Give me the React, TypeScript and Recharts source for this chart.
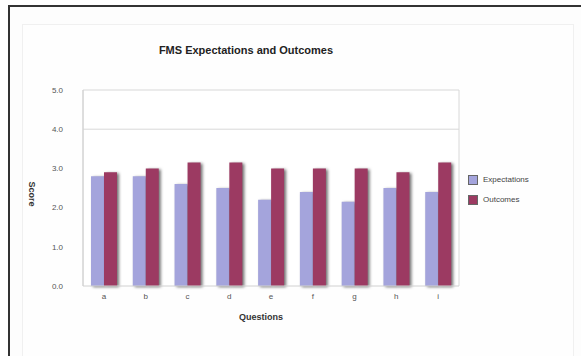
import React from 'react';
import {
  BarChart,
  Bar,
  XAxis,
  YAxis,
  CartesianGrid,
} from 'recharts';

const questions = ['a', 'b', 'c', 'd', 'e', 'f', 'g', 'h', 'i'];
const expectations = [2.8, 2.8, 2.6, 2.5, 2.2, 2.4, 2.15, 2.5, 2.4];
const outcomes = [2.9, 3.0, 3.15, 3.15, 3.0, 3.0, 3.0, 2.9, 3.15];
const scoreTicks = [0, 1, 2, 3, 4, 5];
const gridValues = [4, 5];

const EXP_COLOR = '#a4a4dc';
const OUT_COLOR = '#9c3a62';
const FONT = 'Liberation Sans, Arial, sans-serif';

const data = questions.map((q, i) => ({
  name: q,
  Expectations: expectations[i],
  Outcomes: outcomes[i],
}));

const series: Array<[string, string]> = [
  ['Expectations', EXP_COLOR],
  ['Outcomes', OUT_COLOR],
];

// legend sits outside the chart so it does not eat into the plot area
const LegendBox = () => (
  <div
    style={{
      position: 'absolute',
      left: 468,
      top: 170,
      fontFamily: FONT,
      fontSize: 8,
      color: '#444',
      lineHeight: '20px',
    }}
  >
    {series.map(([label, color]) => (
      <div key={label} style={{ display: 'flex', alignItems: 'center' }}>
        <span
          style={{
            display: 'inline-block',
            width: 8,
            height: 8,
            background: color,
            border: '1px solid #666',
            marginRight: 5,
          }}
        />
        {label}
      </div>
    ))}
  </div>
);

export default function App() {
  return (
    <div
      style={{
        position: 'absolute',
        left: 0,
        top: 0,
        width: 581,
        height: 356,
        background: '#fff',
        overflow: 'hidden',
      }}
    >
      <style>{`.recharts-bar-rectangle path { filter: drop-shadow(2px 1px 1.5px rgba(0,0,0,0.55)); }`}</style>
      {/* page frame */}
      <div
        style={{
          position: 'absolute',
          left: 8,
          top: 5,
          width: 600,
          height: 400,
          borderTop: '2px solid #333',
          borderLeft: '2px solid #333',
          background: '#fdfdfd',
        }}
      />
      {/* chart area */}
      <div
        style={{
          position: 'absolute',
          left: 22,
          top: 24,
          width: 550,
          height: 340,
          border: '1px solid #f0f0f0',
          background: '#fefefe',
        }}
      />
      <div
        style={{
          position: 'absolute',
          left: 0,
          width: 492,
          top: 44,
          textAlign: 'center',
          fontFamily: FONT,
          fontSize: 11,
          fontWeight: 'bold',
          color: '#222',
        }}
      >
        FMS Expectations and Outcomes
      </div>
      <div style={{ position: 'absolute', left: 0, top: 0 }}>
        <BarChart
          width={581}
          height={356}
          data={data}
          margin={{ top: 90, right: 122, bottom: 34, left: 0 }}
          barCategoryGap='19%'
          barGap={0}
        >
          <CartesianGrid
            stroke='#d8d8d8'
            fill='#ffffff'
            horizontalValues={gridValues}
            verticalCoordinatesGenerator={({ offset }: any) => [
              offset.left,
              offset.left + offset.width,
            ]}
          />
          <XAxis
            dataKey='name'
            height={36}
            tickSize={0}
            tickMargin={7}
            axisLine={{ stroke: '#d0d0d0' }}
            tick={{ fontSize: 8, fill: '#555', fontFamily: FONT }}
            label={{
              value: 'Questions',
              position: 'insideBottom',
              offset: 2,
              dx: -10,
              style: {
                fontSize: 9,
                fontWeight: 'bold',
                fill: '#333',
                fontFamily: FONT,
              },
            }}
          />
          <YAxis
            width={83}
            domain={[0, 5]}
            ticks={scoreTicks}
            tickFormatter={(v: number) => v.toFixed(1)}
            tickSize={0}
            tickMargin={20}
            axisLine={{ stroke: '#d0d0d0' }}
            tick={{ fontSize: 8, fill: '#555', fontFamily: FONT }}
            label={{
              value: 'Score',
              angle: 90,
              position: 'insideLeft',
              offset: 32,
              dy: 6,
              style: {
                fontSize: 9,
                fontWeight: 'bold',
                fill: '#333',
                fontFamily: FONT,
                textAnchor: 'middle',
              },
            }}
          />
          <Bar
            dataKey='Expectations'
            fill={EXP_COLOR}
            barSize={13}
            isAnimationActive={false}
          />
          <Bar
            dataKey='Outcomes'
            fill={OUT_COLOR}
            barSize={13}
            isAnimationActive={false}
          />
        </BarChart>
      </div>
      <LegendBox />
    </div>
  );
}
